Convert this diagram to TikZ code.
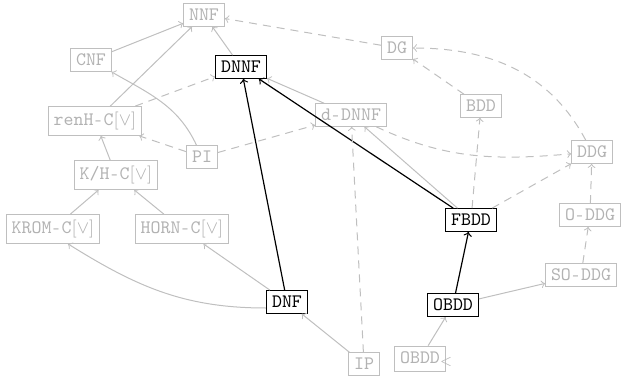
\documentclass[tikz,border=0pt]{standalone}
\usepackage{fontspec}
\newcommand{\hy}{\hspace{0.1em}{\rmfamily -}\hspace{0.1em}}
\begin{document}
\begin{tikzpicture}[x=0.5pt,y=0.5pt,
  base/.style={draw, inner sep=2.7pt, font=\fontsize{9.5}{11}\selectfont\ttfamily, line width=0.5pt},
  gn/.style={base, draw=black!25, text=black!30},
  bn/.style={base, draw=black, text=black, line width=0.65pt},
  ge/.style={->, draw=black!25, line width=0.5pt},
  gd/.style={ge, dash pattern=on 4pt off 3pt},
  be/.style={->, draw=black, line width=0.6pt}]
\useasboundingbox (0,0) rectangle (624,375);
\node[gn] (NNF) at (204,360) {NNF};
\node[gn] (CNF) at (91,315) {CNF};
\node[bn] (DNNF) at (241,308) {DNNF};
\node[gn] (DG) at (397,327) {DG};
\node[gn] (dDNNF) at (351,260) {d\hy DNNF};
\node[gn] (BDD) at (481,269) {BDD};
\node[gn] (renH) at (95,254) {renH\hy C$[\vee]$};
\node[gn] (PI) at (202,218) {PI};
\node[gn] (DDG) at (592,223) {DDG};
\node[gn] (KH) at (116,200) {K/H\hy C$[\vee]$};
\node[gn] (KROM) at (53,146) {KROM\hy C$[\vee]$};
\node[gn] (HORN) at (182,146) {HORN\hy C$[\vee]$};
\node[bn] (FBDD) at (471,155) {FBDD};
\node[gn] (ODDG) at (590,160) {O\hy DDG};
\node[gn] (SODDG) at (581,100) {SO\hy DDG};
\node[bn] (DNF) at (287,73) {DNF};
\node[bn] (OBDD) at (453,70) {OBDD};
\node[gn] (IP) at (364,11) {IP};
\node[gn] (OBDDl) at (420,16) {OBDD\rlap{$_<$}};
\draw[ge] (CNF) -- (NNF);
\draw[ge] (renH) -- (NNF);
\draw[ge] (DNNF) -- (NNF);
\draw[gd] (DG) -- (NNF);
\draw[gd] (renH) -- (DNNF);
\draw[ge] (PI) to[out=115,in=-30] (CNF);
\draw[gd] (PI) -- (renH);
\draw[gd] (PI) -- (dDNNF);
\draw[ge] (KH) -- (renH);
\draw[ge] (KROM) -- (KH);
\draw[ge] (HORN) -- (KH);
\draw[ge] ([yshift=-3pt]DNF.west) to[out=180,in=-32] ([xshift=7.5pt]KROM.south);
\draw[ge] (DNF) -- (HORN);
\draw[be] (DNF) -- (DNNF);
\draw[be] (FBDD) -- (DNNF);
\draw[ge] (FBDD) -- (dDNNF);
\draw[ge] (dDNNF) -- (DNNF);
\draw[ge] (IP) -- (DNF);
\draw[gd] (IP) -- (dDNNF);
\draw[ge] (OBDDl) -- (OBDD);
\draw[be] (OBDD) -- (FBDD);
\draw[ge] (OBDD) -- (SODDG);
\draw[gd] (SODDG) -- (ODDG);
\draw[gd] (ODDG) -- (DDG);
\draw[gd] (dDNNF) to[out=-25,in=185] (DDG);
\draw[gd] (DDG) to[out=118,in=0] (DG);
\draw[gd] (BDD) -- (DG);
\draw[gd] (FBDD) -- (BDD);
\draw[gd] (FBDD) -- (DDG);
\end{tikzpicture}
\end{document}
